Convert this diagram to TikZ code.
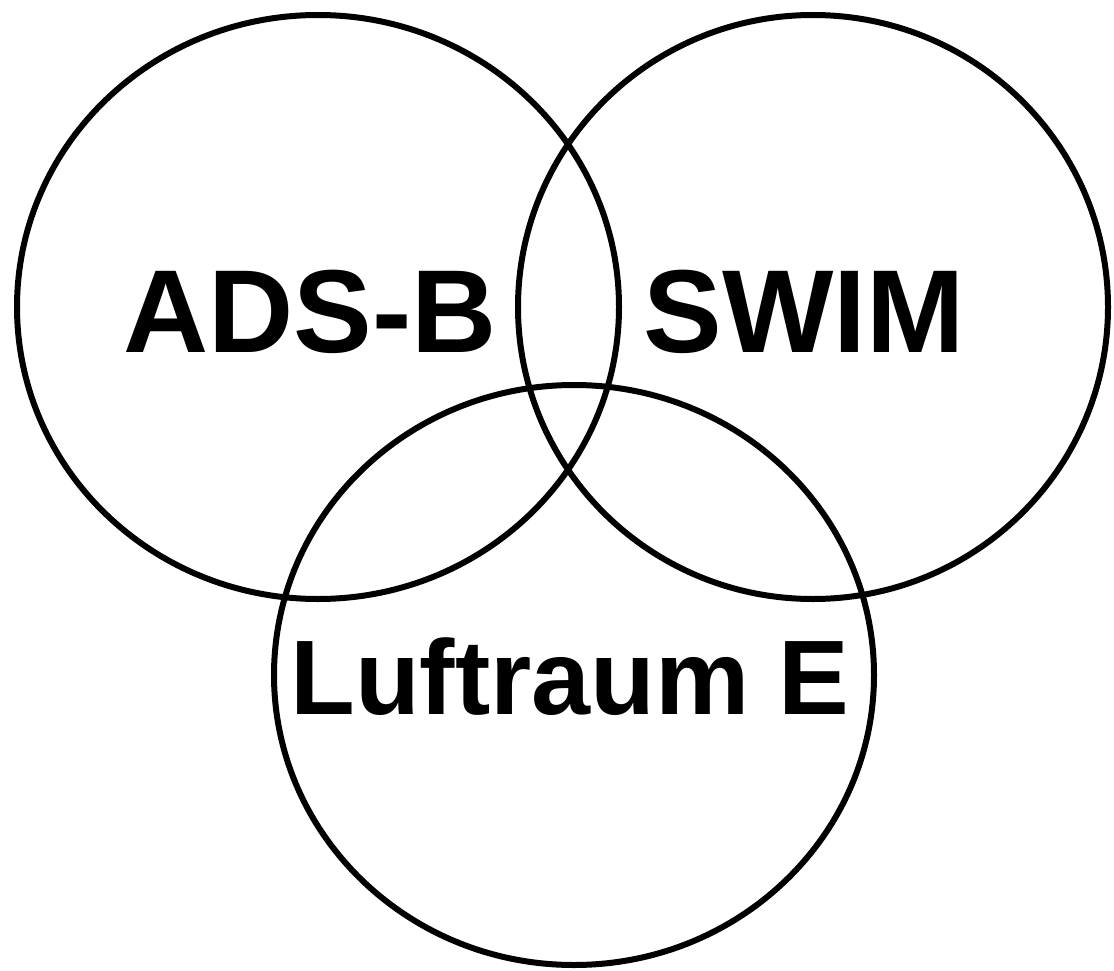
\documentclass[tikz,border=0pt]{standalone}
\usepackage{fontspec}
\setmainfont{Liberation Sans}
\usetikzlibrary{positioning}

\begin{document}
\begin{tikzpicture}[x=1pt,y=-1pt,
    setline/.style={draw=black, line width=6pt},
    setlabel/.style={anchor=base, inner sep=0pt, font=\bfseries\fontsize{118}{120}\selectfont}]
    \useasboundingbox (0,0) rectangle (1114,971);
    % Centres of the three sets
    \coordinate (cA) at (318,307);
    \coordinate (cS) at (813,307);
    \coordinate (cL) at (574,675);
    % ADS-B and SWIM on top, Luftraum E below
    \draw[setline] (cA) ellipse [x radius=301pt, y radius=292pt];
    \draw[setline] (cS) ellipse [x radius=295pt, y radius=292pt];
    \draw[setline] (cL) ellipse [x radius=300pt, y radius=290pt];

    % Labels
    \node[setlabel] (adsb) at (310,352) {ADS-B};
    \node[setlabel] (swim) at (804,352) {SWIM};
    \node[setlabel, font=\bfseries\fontsize{106}{110}\selectfont] (luft) at (570,714) {Luftraum E};
  \end{tikzpicture}
\end{document}
